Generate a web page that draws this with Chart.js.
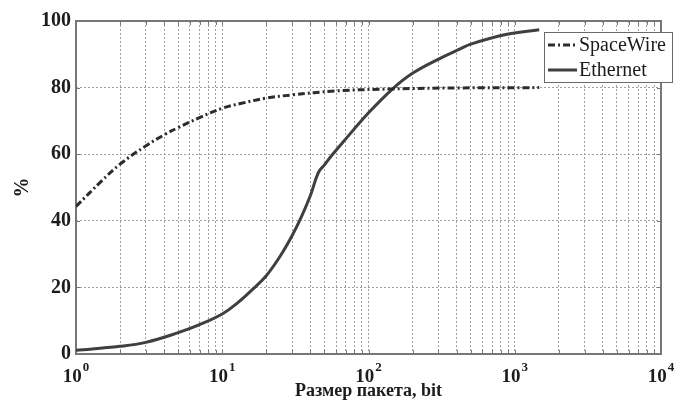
<!DOCTYPE html>
<html>
<head>
<meta charset="utf-8">
<script src="https://cdn.jsdelivr.net/npm/chart.js@4.4.1/dist/chart.umd.min.js"></script>
<style>
  html, body { margin: 0; padding: 0; background: #fff; }
  #wrap { width: 676px; height: 405px; position: relative; }
</style>
</head>
<body>
<div id="wrap"><canvas id="chart"></canvas></div>
<script>
// packet size (bit) vs efficiency (%)
const seriesNames = ['SpaceWire', 'Ethernet'];
const spaceWireSize = [1, 1.5, 2, 3, 4, 5, 7, 10, 13.3, 19.7, 30, 60, 145, 400, 1470];
const spaceWirePct  = [44.3, 52, 57, 62.5, 65.8, 68, 71, 73.8, 75.2, 76.8, 77.8, 79, 79.6, 79.9, 80];
const ethernetSize = [1, 2, 3, 5, 7, 10, 12.6, 16.2, 20, 25, 30, 35, 40, 45.4, 50, 56, 69, 98, 145, 200, 309, 423, 495, 885, 1470];
const ethernetPct  = [1.1, 2.3, 3.5, 6.4, 8.8, 12, 15.2, 19.5, 23.5, 29.5, 35.5, 41.5, 47.5, 54.5, 56.8, 59.6, 64.3, 72, 79.5, 84.3, 88.8, 91.6, 93, 96, 97.4];
const yTicks = [0, 20, 40, 60, 80, 100];
const xDecades = [0, 1, 2, 3, 4];

const SERIF = '"Liberation Serif", "Times New Roman", serif';
const ink = '#1c1c1c';
const frameColor = '#777';

const toPoints = (xs, ys) => xs.map((x, i) => ({ x: x, y: ys[i] }));

// frame around the plot with short inward ticks, drawn under the curves
const framePlugin = {
  id: 'frame',
  beforeDatasetsDraw(chart) {
    const { ctx, chartArea: a, scales } = chart;
    ctx.save();
    ctx.strokeStyle = frameColor;
    ctx.lineWidth = 1;
    ctx.beginPath();
    scales.x.ticks.forEach(t => {
      const px = Math.round(scales.x.getPixelForValue(t.value)) + 0.5;
      ctx.moveTo(px, a.bottom); ctx.lineTo(px, a.bottom - 4);
      ctx.moveTo(px, a.top); ctx.lineTo(px, a.top + 4);
    });
    scales.y.ticks.forEach(t => {
      const py = Math.round(scales.y.getPixelForValue(t.value)) + 0.5;
      ctx.moveTo(a.left, py); ctx.lineTo(a.left + 4, py);
      ctx.moveTo(a.right, py); ctx.lineTo(a.right - 4, py);
    });
    ctx.stroke();
    ctx.lineWidth = 2;
    ctx.strokeRect(a.left, a.top, a.right - a.left, a.bottom - a.top);
    ctx.restore();
  }
};

// 10^n labels under the log axis
const powerLabels = {
  id: 'powerLabels',
  afterDraw(chart) {
    const { ctx } = chart;
    const sx = chart.scales.x;
    ctx.save();
    ctx.fillStyle = ink;
    ctx.textBaseline = 'alphabetic';
    xDecades.forEach(p => {
      const px = sx.getPixelForValue(Math.pow(10, p));
      ctx.font = 'bold 19px ' + SERIF;
      const wb = ctx.measureText('10').width;
      ctx.font = 'bold 13px ' + SERIF;
      const we = ctx.measureText(String(p)).width;
      const x0 = px - (wb + we + 1) / 2;
      ctx.font = 'bold 19px ' + SERIF;
      ctx.fillText('10', x0, 382);
      ctx.font = 'bold 13px ' + SERIF;
      ctx.fillText(String(p), x0 + wb + 1, 371);
    });
    ctx.restore();
  }
};

// boxed legend in the upper right corner
const boxLegend = {
  id: 'boxLegend',
  afterDraw(chart) {
    const { ctx } = chart;
    const left = 544, top = 32, w = 128, h = 50;
    ctx.save();
    ctx.fillStyle = '#fff';
    ctx.fillRect(left, top, w, h);
    ctx.strokeStyle = '#6a6a6a';
    ctx.lineWidth = 1;
    ctx.strokeRect(left + 0.5, top + 0.5, w, h);
    chart.data.datasets.forEach((ds, i) => {
      const y = top + 13 + i * 25;
      ctx.strokeStyle = ds.borderColor;
      ctx.lineWidth = ds.borderWidth;
      ctx.setLineDash(ds.borderDash || []);
      ctx.beginPath();
      ctx.moveTo(left + 4, y);
      ctx.lineTo(left + 33, y);
      ctx.stroke();
      ctx.setLineDash([]);
      ctx.fillStyle = ink;
      ctx.font = '20px ' + SERIF;
      ctx.textBaseline = 'middle';
      ctx.fillText(ds.label, left + 35, y + 1);
    });
    ctx.restore();
  }
};

new Chart(document.getElementById('chart'), {
  type: 'line',
  data: {
    datasets: [
      {
        label: seriesNames[0],
        data: toPoints(spaceWireSize, spaceWirePct),
        borderColor: '#2c2c2c',
        borderWidth: 3,
        borderDash: [7, 3, 2, 3],
        pointRadius: 0,
        tension: 0.4,
        fill: false
      },
      {
        label: seriesNames[1],
        data: toPoints(ethernetSize, ethernetPct),
        borderColor: '#3f3f3f',
        borderWidth: 3,
        pointRadius: 0,
        tension: 0.4,
        fill: false
      }
    ]
  },
  options: {
    responsive: true,
    maintainAspectRatio: false,
    animation: false,
    layout: { padding: { top: 21, right: 15, left: 0, bottom: 0 } },
    plugins: {
      legend: { display: false },
      tooltip: { enabled: false }
    },
    scales: {
      x: {
        type: 'logarithmic',
        min: 1,
        max: 10000,
        afterBuildTicks(scale) {
          const t = [];
          for (let e = 0; e < 4; e++) {
            for (let m = 1; m < 10; m++) t.push({ value: m * Math.pow(10, e) });
          }
          t.push({ value: 10000 });
          scale.ticks = t;
        },
        afterFit(scale) { scale.height = 51; },
        ticks: { display: false },
        grid: { color: '#a0a0a0', lineWidth: 1, drawTicks: false },
        border: { display: false, dash: [2, 2] },
        title: {
          display: true,
          text: 'Размер пакета, bit',
          color: ink,
          font: { family: SERIF, size: 18, weight: 'bold' },
          padding: { top: 0, bottom: 3 }
        }
      },
      y: {
        min: 0,
        max: 100,
        afterBuildTicks(scale) {
          scale.ticks = yTicks.map(v => ({ value: v }));
        },
        afterFit(scale) { scale.width = 76; },
        ticks: {
          color: ink,
          padding: 5,
          font: { family: SERIF, size: 20, weight: 'bold' }
        },
        grid: { color: '#a0a0a0', lineWidth: 1, drawTicks: false },
        border: { display: false, dash: [2, 2] },
        title: {
          display: true,
          text: '%',
          color: ink,
          font: { family: SERIF, size: 20, weight: 'bold' },
          padding: { top: 11, bottom: 0 }
        }
      }
    }
  },
  plugins: [framePlugin, powerLabels, boxLegend]
});
</script>
</body>
</html>
